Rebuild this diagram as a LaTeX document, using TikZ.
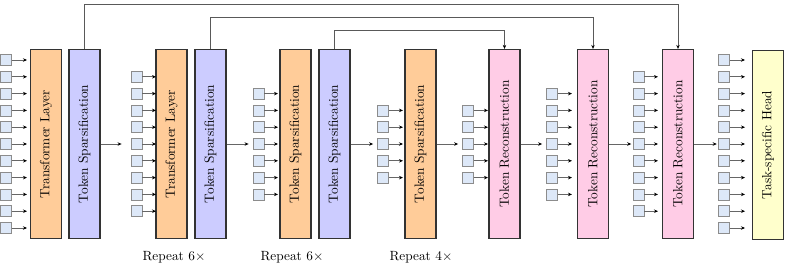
\documentclass[tikz,border=0pt]{standalone}
\usetikzlibrary{arrows.meta}

\definecolor{layerorange}{HTML}{FFCC99}
\definecolor{sparsepurple}{HTML}{CCCCFF}
\definecolor{reconpink}{HTML}{FFCCE6}
\definecolor{headyellow}{HTML}{FFFFCC}
\definecolor{tokblue}{HTML}{DDE8F8}

\tikzset{
  blk/.style={draw=black!80,line width=0.9pt,minimum width=23.25pt,minimum height=141.75pt,inner sep=0pt},
  tok/.style={draw=black!45,line width=0.6pt,fill=tokblue,minimum size=8.25pt,inner sep=0pt},
  arr/.style={draw=black!60,line width=0.6pt,-{Stealth[length=3pt,width=2.6pt,black]}},
  skip/.style={draw=black!65,line width=0.6pt,-{Stealth[length=3pt,width=2.6pt,black]}},
}

\begin{document}
\begin{tikzpicture}[x=0.75pt,y=-0.75pt]
\useasboundingbox (0,0) rectangle (785,273);

% blocks
\node[blk,fill=layerorange] (tl1) at (46,144) {\rotatebox{90}{Transformer Layer}};
\node[blk,fill=sparsepurple] (ts1) at (84.5,144) {\rotatebox{90}{Token Sparsification}};
\node[blk,fill=layerorange] (tl2) at (171.5,144) {\rotatebox{90}{Transformer Layer}};
\node[blk,fill=sparsepurple] (ts2) at (210.5,144) {\rotatebox{90}{Token Sparsification}};
\node[blk,fill=layerorange] (tsa) at (295.5,144) {\rotatebox{90}{Token Sparsification}};
\node[blk,fill=sparsepurple] (ts3) at (334.5,144) {\rotatebox{90}{Token Sparsification}};
\node[blk,fill=layerorange] (tsb) at (420.5,144) {\rotatebox{90}{Token Sparsification}};
\node[blk,fill=reconpink] (tr1) at (504.5,144) {\rotatebox{90}{Token Reconstruction}};
\node[blk,fill=reconpink] (tr2) at (593,144) {\rotatebox{90}{Token Reconstruction}};
\node[blk,fill=reconpink] (tr3) at (678,144) {\rotatebox{90}{Token Reconstruction}};
\node[blk,fill=headyellow] (head) at (768,145) {\rotatebox{90}{Task-specific Head}};

% token columns
\foreach \c/\x/\n/\e in {1/6/11/27, 2/136.5/9/156, 3/258.5/7/278, 4/383/5/403,
                        5/468/5/488, 6/552/7/572, 7/638.5/9/658, 8/724/11/745} {
  \coordinate (e\c) at (\e,0);
  \foreach \i in {1,...,\n} {
    \node[tok] (t\c-\i) at (\x,{144+16.8*(\i-(\n+1)/2)}) {};
    \draw[arr] (t\c-\i.east) -- (t\c-\i.east -| e\c);
  }
}

% stage to stage
\draw[arr,shorten >=6.75pt] (ts1.east) -- (t2-5.west);
\draw[arr,shorten >=3pt] (ts2.east) -- (t3-4.west);
\draw[arr,shorten >=3pt] (ts3.east) -- (t4-3.west);
\draw[arr,shorten >=3pt] (tsb.east) -- (t5-3.west);
\draw[arr,shorten >=3pt] (tr1.east) -- (t6-4.west);
\draw[arr,shorten >=1pt] (tr2.east) -- (t7-5.west);
\draw[arr,shorten >=1pt] (tr3.east) -- (t8-6.west);

% skip connections
\coordinate (sk1) at (0,4);
\coordinate (sk2) at (0,17);
\coordinate (sk3) at (0,30);
\draw[skip] (ts1.north) -- (ts1.north |- sk1) -| (tr3.north);
\draw[skip] (ts2.north) -- (ts2.north |- sk2) -| (tr2.north);
\draw[skip] (ts3.north) -- (ts3.north |- sk3) -| (tr1.north);

% repeat labels
\node (rep1) at (174,257) {Repeat 6$\times$};
\node (rep2) at (292,257) {Repeat 6$\times$};
\node (rep3) at (421,257) {Repeat 4$\times$};
\end{tikzpicture}
\end{document}
